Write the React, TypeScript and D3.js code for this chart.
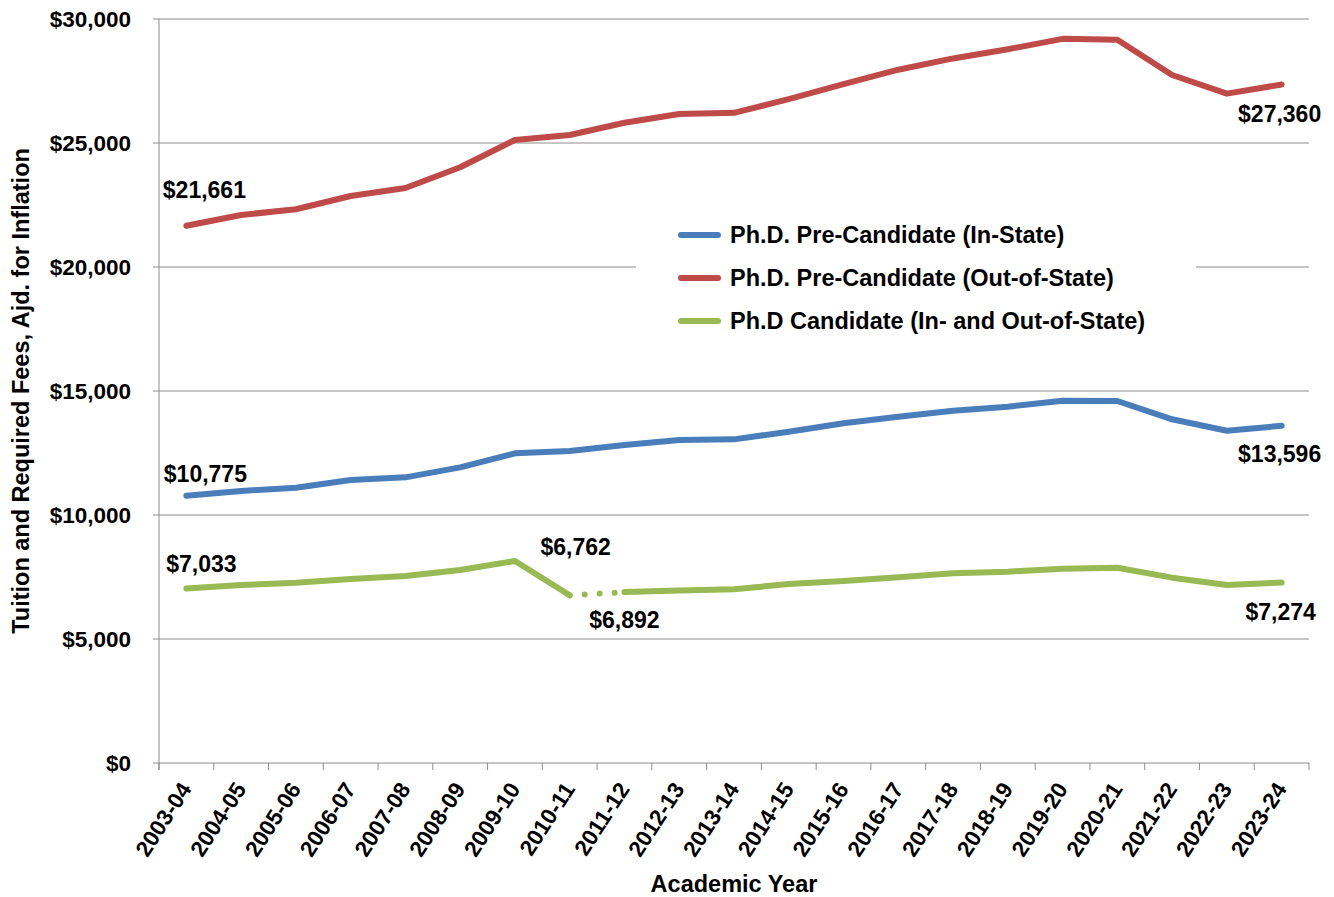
import React from "react";
import * as d3 from "d3";

const years = [
  "2003-04", "2004-05", "2005-06", "2006-07", "2007-08", "2008-09", "2009-10",
  "2010-11", "2011-12", "2012-13", "2013-14", "2014-15", "2015-16", "2016-17",
  "2017-18", "2018-19", "2019-20", "2020-21", "2021-22", "2022-23", "2023-24",
];

const inState = [
  10775, 10968, 11102, 11411, 11519, 11922, 12487, 12581, 12823, 13024, 13050,
  13360, 13697, 13964, 14206, 14367, 14609, 14597, 13859, 13399, 13596,
];

const outState = [
  21661, 22097, 22330, 22863, 23185, 24020, 25121, 25323, 25815, 26169, 26215,
  26770, 27370, 27955, 28410, 28780, 29200, 29160, 27742, 26990, 27360,
];

const candidate = [
  7033, 7177, 7270, 7419, 7540, 7782, 8145, 6762, 6892, 6960, 7004,
  7218, 7339, 7487, 7648, 7715, 7835, 7876, 7473, 7177, 7274,
];

// candidate series: solid up to this year, dotted connector to the next year, then solid again
const candidateBreakYear = "2010-11";

const yTicks = [0, 5000, 10000, 15000, 20000, 25000, 30000];

const seriesNames = [
  "Ph.D. Pre-Candidate (In-State)",
  "Ph.D. Pre-Candidate (Out-of-State)",
  "Ph.D Candidate (In- and Out-of-State)",
];

const colors = ["#4A7EBB", "#BE4B48", "#98B954"];

const fmt = (v: number) => "$" + d3.format(",")(v);

export default function App() {
  const W = 1334, H = 897;
  const left = 159, right = 1309, top = 19, bottom = 763;
  const x = d3.scaleBand<string>().domain(years).range([left, right]).padding(0);
  const cx = (yr: string) => (x(yr) as number) + x.bandwidth() / 2;
  const y = d3.scaleLinear().domain([0, 30000]).range([bottom, top]);

  const line = d3
    .line<[string, number]>()
    .x((d) => cx(d[0]))
    .y((d) => y(d[1]));

  const zip = (vals: number[]) => years.map((yr, i) => [yr, vals[i]] as [string, number]);
  const inPts = zip(inState);
  const outPts = zip(outState);
  const candPts = zip(candidate);
  const bi = years.indexOf(candidateBreakYear);
  const candA = candPts.slice(0, bi + 1);
  const candDot = candPts.slice(bi, bi + 2);
  const candB = candPts.slice(bi + 1);

  const font = "'Liberation Sans', Arial, sans-serif";
  const gridColor = "#8C8C8C";

  const first = years[0];
  const last = years[years.length - 1];
  const n = years.length - 1;

  const labels = [
    { yr: first, v: outState[0], dx: 18, dy: -28 },
    { yr: last, v: outState[n], dx: -2, dy: 38 },
    { yr: first, v: inState[0], dx: 19, dy: -14 },
    { yr: last, v: inState[n], dx: -2, dy: 36 },
    { yr: first, v: candidate[0], dx: 15, dy: -17 },
    { yr: last, v: candidate[n], dx: -1, dy: 37 },
    { yr: years[bi], v: candidate[bi], dx: 6, dy: -40 },
    { yr: years[bi + 1], v: candidate[bi + 1], dx: 0, dy: 36 },
  ];

  const lw = 6;

  return (
    <svg
      width={W}
      height={H}
      style={{ position: "absolute", left: 0, top: 0, background: "#fff" }}
      fontFamily={font}
      fontWeight="bold"
    >
      {/* gridlines */}
      {yTicks.map((t) => (
        <line key={t} x1={left - 6} x2={right} y1={y(t)} y2={y(t)} stroke={gridColor} strokeWidth={1} />
      ))}
      {/* y axis */}
      <line x1={left} x2={left} y1={top} y2={bottom + 7} stroke={gridColor} strokeWidth={1} />
      {/* x ticks */}
      {years.map((yr) => (
        <line key={yr} x1={x(yr) as number} x2={x(yr) as number} y1={bottom} y2={bottom + 7} stroke={gridColor} />
      ))}
      <line x1={right} x2={right} y1={bottom} y2={bottom + 7} stroke={gridColor} />

      {/* y tick labels */}
      {yTicks.map((t) => (
        <text key={t} x={131} y={y(t)} dy="0.36em" textAnchor="end" fontSize={22.5} fill="#000">
          {fmt(t)}
        </text>
      ))}

      {/* x tick labels */}
      {years.map((yr) => (
        <text
          key={yr}
          transform={`translate(${cx(yr) + 6},${bottom + 26}) rotate(-57)`}
          textAnchor="end"
          fontSize={22.5}
          fill="#000"
        >
          {yr}
        </text>
      ))}

      {/* axis titles */}
      <text x={734} y={892} textAnchor="middle" fontSize={23.5} fill="#000">
        Academic Year
      </text>
      <text
        transform={`translate(29,${(top + bottom) / 2}) rotate(-90)`}
        textAnchor="middle"
        fontSize={23.5}
        fill="#000"
      >
        Tuition and Required Fees, Ajd. for Inflation
      </text>

      {/* legend background */}
      <rect x={636} y={212} width={560} height={130} fill="#fff" />

      {/* lines */}
      <path d={line(outPts) || ""} fill="none" stroke={colors[1]} strokeWidth={lw} strokeLinejoin="round" strokeLinecap="round" />
      <path d={line(inPts) || ""} fill="none" stroke={colors[0]} strokeWidth={lw} strokeLinejoin="round" strokeLinecap="round" />
      <path d={line(candA) || ""} fill="none" stroke={colors[2]} strokeWidth={lw} strokeLinejoin="round" strokeLinecap="round" />
      <path d={line(candB) || ""} fill="none" stroke={colors[2]} strokeWidth={lw} strokeLinejoin="round" strokeLinecap="round" />
      <path
        d={line(candDot) || ""}
        fill="none"
        stroke={colors[2]}
        strokeWidth={lw}
        strokeLinecap="round"
        strokeDasharray="0 15"
        strokeDashoffset={-15}
      />

      {/* data labels */}
      {labels.map((l, i) => (
        <text
          key={i}
          x={cx(l.yr) + l.dx}
          y={y(l.v) + l.dy}
          textAnchor="middle"
          fontSize={23}
          fill="#000"
        >
          {fmt(l.v)}
        </text>
      ))}

      {/* legend */}
      {seriesNames.map((s, i) => (
        <g key={s} transform={`translate(0,${235 + i * 43})`}>
          <line x1={681} x2={718} y1={0} y2={0} stroke={colors[i]} strokeWidth={lw} strokeLinecap="round" />
          <text x={730} y={0} dy="0.36em" fontSize={23.5} fill="#000">
            {s}
          </text>
        </g>
      ))}
    </svg>
  );
}
